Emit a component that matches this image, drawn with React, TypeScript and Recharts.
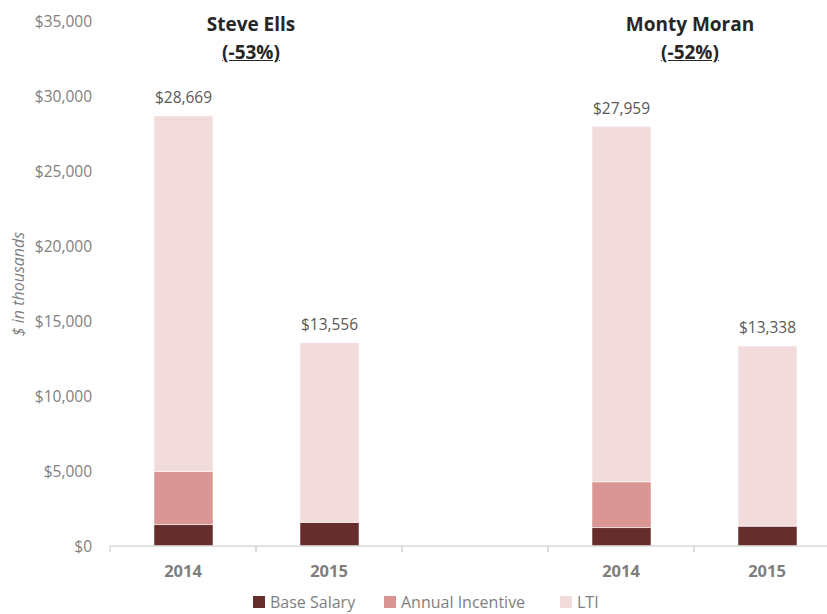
import React from 'react';
import { BarChart, Bar, XAxis, YAxis, LabelList } from 'recharts';

// executive pay, $ in thousands
const categories = ['2014', '2015', '', '2014', '2015'];
const baseSalary = [1430, 1570, null, 1230, 1320];
const annualIncentive = [3540, 0, null, 3050, 0];
const lti = [23699, 11986, null, 23679, 12018];
const totals = [28669, 13556, null, 27959, 13338];
const yTicks = [0, 5000, 10000, 15000, 20000, 25000, 30000, 35000];

const people = [
  { name: 'Steve Ells', change: '(-53%)', x: 251 },
  { name: 'Monty Moran', change: '(-52%)', x: 690 },
];

const legendItems = [
  { label: 'Base Salary', color: '#662d2d', x: 253 },
  { label: 'Annual Incentive', color: '#da9694', x: 384 },
  { label: 'LTI', color: '#f2dcdb', x: 560 },
];

const data = categories.map((c, i) => ({
  cat: c,
  base: baseSalary[i],
  ai: annualIncentive[i],
  lti: lti[i],
  total: totals[i],
}));

const FONT = '"Open Sans", sans-serif';
const CHART_W = 850;
const MARGIN = { top: 21, right: 10, left: 0, bottom: 38 };
const Y_W = 110;
const BAND = (CHART_W - MARGIN.left - MARGIN.right - Y_W) / categories.length;

const money = (v: any) => (v == null ? '' : '$' + Number(v).toLocaleString('en-US'));

const XTick = (props: any) => {
  const { x, y, payload } = props;
  return (
    <g>
      <line x1={x - BAND / 2} x2={x - BAND / 2} y1={y} y2={y + 6} stroke="#d9d9d9" strokeWidth={1.5} />
      <line x1={x + BAND / 2} x2={x + BAND / 2} y1={y} y2={y + 6} stroke="#d9d9d9" strokeWidth={1.5} />
      <text x={x} y={y + 31} textAnchor="middle" fill="#7f7f7f" fontSize={16.5} fontWeight={700} fontFamily={FONT}>
        {payload.value}
      </text>
    </g>
  );
};

export default function App() {
  return (
    <div style={{ position: 'fixed', left: 0, top: 0, width: 827, height: 614, overflow: 'hidden', background: '#fff', fontFamily: FONT }}>
      <BarChart width={CHART_W} height={614} data={data} margin={MARGIN}>
        <XAxis
          dataKey="cat"
          height={30}
          tickLine={false}
          tickSize={0}
          tickMargin={0}
          axisLine={{ stroke: '#d9d9d9', strokeWidth: 1.5 }}
          tick={<XTick />}
          interval={0}
        />
        <YAxis
          width={Y_W}
          domain={[0, 35000]}
          ticks={yTicks}
          axisLine={false}
          tickLine={false}
          tickSize={0}
          tickMargin={18}
          tickFormatter={money}
          tick={{ fill: '#7f7f7f', fontSize: 15.5, fontFamily: FONT }}
        />
        <Bar dataKey="base" stackId="a" barSize={59} fill="#662d2d" stroke="#ffffff" strokeWidth={0.5} isAnimationActive={false} />
        <Bar dataKey="ai" stackId="a" barSize={59} fill="#da9694" stroke="#ffffff" strokeWidth={0.5} isAnimationActive={false} />
        <Bar dataKey="lti" stackId="a" barSize={59} fill="#f2dcdb" stroke="#ffffff" strokeWidth={0.5} isAnimationActive={false}>
          <LabelList dataKey="total" position="top" offset={13} formatter={money} fill="#595959" fontSize={15.5} fontFamily={FONT} />
        </Bar>
      </BarChart>

      {people.map((p) => (
        <div key={p.name} style={{ position: 'absolute', left: p.x, top: 10, transform: 'translateX(-50%)', textAlign: 'center', color: '#262626', fontWeight: 700, fontSize: 19, lineHeight: '28px', whiteSpace: 'nowrap' }}>
          <div>{p.name}</div>
          <div style={{ textDecoration: 'underline' }}>{p.change}</div>
        </div>
      ))}

      <div style={{ position: 'absolute', left: 18, top: 284, transform: 'translate(-50%, -50%) rotate(-90deg)', color: '#7f7f7f', fontStyle: 'italic', fontSize: 16, whiteSpace: 'nowrap' }}>
        $ in thousands
      </div>

      {legendItems.map((l) => (
        <div key={l.label} style={{ position: 'absolute', left: l.x, top: 591, display: 'flex', alignItems: 'center', color: '#7f7f7f', fontSize: 16, whiteSpace: 'nowrap', lineHeight: '22px' }}>
          <span style={{ display: 'inline-block', width: 12, height: 12, background: l.color, marginRight: 5 }} />
          {l.label}
        </div>
      ))}
    </div>
  );
}
